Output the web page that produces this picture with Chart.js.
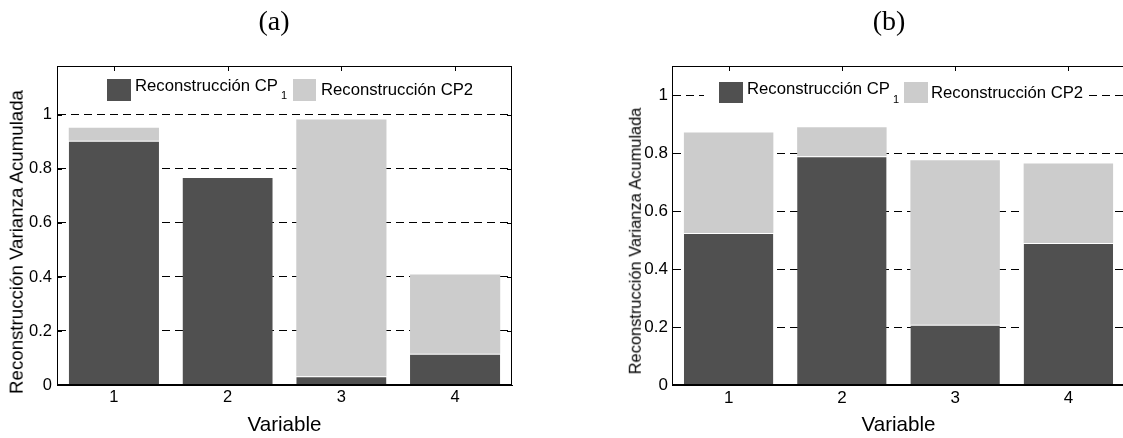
<!DOCTYPE html>
<html>
<head>
<meta charset="utf-8">
<script src="https://cdn.jsdelivr.net/npm/chart.js@4"></script>
<style>
    html, body { margin: 0; padding: 0; background: #fff; overflow: hidden; }
    #wrap { position: relative; width: 1123px; height: 438px; overflow: hidden; }
    canvas { position: absolute; top: 0; }
    .t { position: absolute; line-height: 1; white-space: nowrap; font-family: 'Liberation Sans', Arial, sans-serif; color: #000; }
    .panel { font-family: 'Liberation Serif', 'Times New Roman', serif; font-size: 28px; transform: translateX(-50%); }
    .ytitle { transform: translate(-50%, -50%) rotate(-90deg); }
    .sw { position: absolute; }
</style>
</head>
<body>
<div id="wrap">
    <canvas id="chartA" width="560" height="438" style="left:0"></canvas>
    <canvas id="chartB" width="540" height="438" style="left:600px"></canvas>

    <div class="t panel" style="left:274px; top:7px">(a)</div>
    <div class="t panel" style="left:889px; top:7px">(b)</div>

    <div class="t ytitle" style="left:17px; top:242px; font-size:18.7px">Reconstrucción Varianza Acumulada</div>
    <div class="t ytitle" style="left:635px; top:241px; font-size:16.4px">Reconstrucción Varianza Acumulada</div>

    <!-- legend (a) -->
    <div class="sw" style="left:107px; top:79px; width:24px; height:22px; background:#505050"></div>
    <div class="t" style="left:135px; top:77.6px; font-size:16.7px">Reconstrucción CP</div>
    <div class="t" style="left:281px; top:89.7px; font-size:11px">1</div>
    <div class="sw" style="left:293px; top:79px; width:23px; height:22px; background:#cccccc"></div>
    <div class="t" style="left:321px; top:81.9px; font-size:16.7px">Reconstrucción CP2</div>

    <!-- legend (b) -->
    <div class="sw" style="left:704px; top:76px; width:383px; height:32px; background:#fff"></div>
    <div class="sw" style="left:719px; top:82px; width:24px; height:21px; background:#505050"></div>
    <div class="t" style="left:747px; top:80.9px; font-size:16.7px">Reconstrucción CP</div>
    <div class="t" style="left:893px; top:94px; font-size:11px">1</div>
    <div class="sw" style="left:904px; top:82px; width:24px; height:21px; background:#cccccc"></div>
    <div class="t" style="left:931px; top:84.9px; font-size:16.7px">Reconstrucción CP2</div>
</div>

<script>
    const variables = ['1', '2', '3', '4'];

    // (a) reconstruction per variable
    const cp1A = [0.904, 0.770, 0.032, 0.116];
    const cp2A = [0.048, 0.000, 0.951, 0.293];

    // (b)
    const cp1B = [0.524, 0.789, 0.208, 0.490];
    const cp2B = [0.347, 0.100, 0.567, 0.274];

    const yStep = 0.2;
    const darkGrey = '#505050';
    const lightGrey = '#cccccc';

    // box around the plot + inward tick marks (matlab style)
    const boxPlugin = {
        id: 'box',
        beforeDatasetsDraw(chart) {
            const { ctx, chartArea: a, scales: { x, y } } = chart;
            ctx.save();
            ctx.strokeStyle = '#000';
            ctx.lineWidth = 1;
            ctx.beginPath();
            y.ticks.forEach(t => {
                const py = Math.round(y.getPixelForValue(t.value)) + 0.5;
                ctx.moveTo(a.left, py); ctx.lineTo(a.left + 5, py);
                ctx.moveTo(a.right, py); ctx.lineTo(a.right - 5, py);
            });
            x.ticks.forEach((t, i) => {
                const px = Math.round(x.getPixelForTick(i)) + 0.5;
                ctx.moveTo(px, a.top); ctx.lineTo(px, a.top + 5);
                ctx.moveTo(px, a.bottom); ctx.lineTo(px, a.bottom - 5);
            });
            ctx.stroke();
            ctx.restore();
        },
        afterDraw(chart) {
            const { ctx, chartArea: a } = chart;
            ctx.save();
            ctx.strokeStyle = '#000';
            ctx.lineWidth = 1;
            ctx.strokeRect(Math.round(a.left) + 0.5, Math.round(a.top) + 0.5,
                Math.round(a.right - a.left) - 1, Math.round(a.bottom - a.top) - 1);
            ctx.restore();
        }
    };

    const createChart = (id, cp1, cp2, opts) => {
        const ctx = document.getElementById(id).getContext('2d');
        return new Chart(ctx, {
            type: 'bar',
            data: {
                labels: variables,
                datasets: [
                    {
                        label: 'Reconstrucción CP1',
                        data: cp1,
                        backgroundColor: darkGrey,
                        borderColor: '#ffffff',
                        borderWidth: { top: 1, left: 0, right: 0, bottom: 0 },
                        borderSkipped: false
                    },
                    {
                        label: 'Reconstrucción CP2',
                        data: cp2,
                        backgroundColor: lightGrey,
                        borderWidth: 0
                    }
                ]
            },
            options: {
                responsive: false,
                animation: false,
                events: [],
                categoryPercentage: 1,
                barPercentage: opts.barPct,
                layout: { padding: { left: 0, right: opts.padRight, top: 66, bottom: 0 } },
                plugins: {
                    legend: { display: false },
                    tooltip: { enabled: false }
                },
                scales: {
                    x: {
                        stacked: true,
                        grid: { display: false, drawTicks: false },
                        border: { display: true, color: '#000', width: 1 },
                        ticks: {
                            color: '#000',
                            padding: 3,
                            font: { family: 'Liberation Sans', size: opts.tickSize }
                        },
                        title: {
                            display: true,
                            text: 'Variable',
                            color: '#000',
                            padding: { top: 0, bottom: 0 },
                            font: { family: 'Liberation Sans', size: 20.6 }
                        },
                        afterFit: s => { s.height = 53; }
                    },
                    y: {
                        stacked: true,
                        min: 0,
                        max: opts.yMax,
                        grid: {
                            drawTicks: false,
                            color: c => (c.tick && c.tick.value === 0) ? 'rgba(0,0,0,0)' : '#000',
                            lineWidth: 1
                        },
                        border: { display: true, color: '#000', width: 1, dash: [8, 5] },
                        ticks: {
                            stepSize: yStep,
                            includeBounds: false,
                            color: '#000',
                            padding: opts.tickPad,
                            font: { family: 'Liberation Sans', size: opts.tickSize },
                            callback: v => String(Number(v.toFixed(1)))
                        },
                        afterFit: s => { s.width = opts.yWidth; }
                    }
                }
            },
            plugins: [boxPlugin]
        });
    };

    createChart('chartA', cp1A, cp2A, { barPct: 0.793, padRight: 48, yMax: 1.181, yWidth: 57, tickSize: 16.5, tickPad: 5 });
    createChart('chartB', cp1B, cp2B, { barPct: 0.79, padRight: 15, yMax: 1.10, yWidth: 72, tickSize: 17, tickPad: 4 });
</script>
</body>
</html>
